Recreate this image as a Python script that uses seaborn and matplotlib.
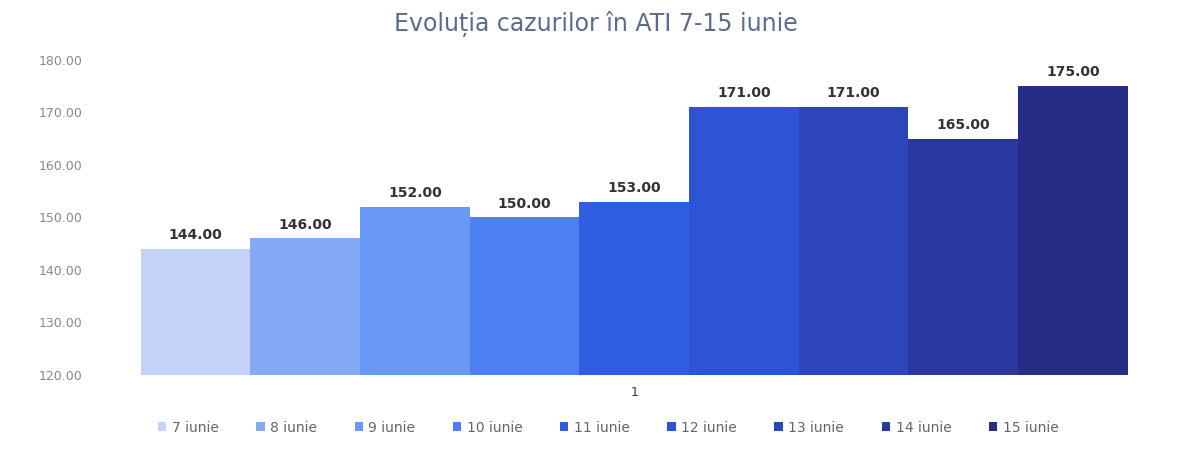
# Bar chart: ATI cases 7-15 June
import pandas as pd
import matplotlib.pyplot as plt
import seaborn as sns

days = ['7 iunie', '8 iunie', '9 iunie', '10 iunie', '11 iunie',
        '12 iunie', '13 iunie', '14 iunie', '15 iunie']
cases = [144, 146, 152, 150, 153, 171, 171, 165, 175]
group = ['1'] * len(days)
colors = ['#c5d3fa', '#86a9f5', '#6a99f5', '#4d80f0', '#2f5ee0',
          '#2d54d4', '#2c45b8', '#28389e', '#262d85']

df = pd.DataFrame({'grup': group, 'zi': days, 'cazuri': cases})

sns.set_style('white')
fig = plt.figure(figsize=(11.91, 4.5), dpi=100)
ax = fig.add_axes([0.095, 0.1667, 0.875, 0.70])

sns.barplot(data=df, x='grup', y='cazuri', hue='zi', hue_order=days,
            palette=colors, width=0.947, gap=0, ax=ax, legend=True,
            saturation=1, linewidth=0)

for c in ax.containers:
    ax.bar_label(c, labels=[f'{v:.2f}' for v in c.datavalues], padding=5,
                 fontsize=10, fontweight='bold', color='#333333',
                 family='DejaVu Sans')

ax.set_ylim(120, 180)
ax.set_xlim(-0.5, 0.5)
ax.set_yticks(range(120, 181, 10))
ax.set_yticklabels([f'{v:.2f}' for v in range(120, 181, 10)])
ax.tick_params(axis='y', labelsize=9, colors='#888888', length=0, pad=22)
ax.tick_params(axis='x', labelsize=9, colors='#333333', length=0, pad=8)
ax.set_xlabel('')
ax.set_ylabel('')
for s in ax.spines.values():
    s.set_visible(False)

ax.legend(loc='upper center', bbox_to_anchor=(0.475, -0.105), ncol=9,
          frameon=False, fontsize=10, handlelength=0.6, handleheight=0.6,
          handletextpad=0.4, columnspacing=2.7, labelcolor='#666666')

fig.suptitle('Evoluția cazurilor în ATI 7-15 iunie', y=0.975,
             fontsize=17, color='#5b6b8c', family='DejaVu Sans')

plt.savefig('out.png')
